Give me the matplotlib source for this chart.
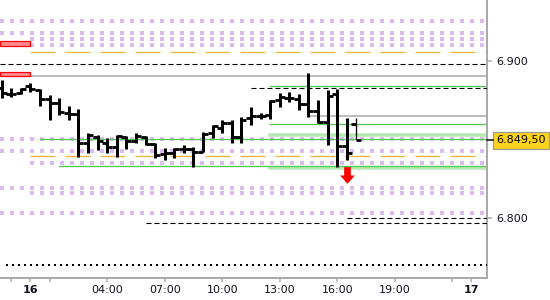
import numpy as np
import matplotlib
matplotlib.use("Agg")
import matplotlib.pyplot as plt
from matplotlib.path import Path
from matplotlib.markers import TICKLEFT, TICKRIGHT

plt.rcParams['font.family'] = ['DejaVu Sans']
plt.rcParams['lines.scale_dashes'] = False

# ---------------- data ----------------
# 30-minute bars, hours relative to 16th 00:00
bar_hours = np.arange(-1.5, 17.01, 0.5)
opens  = [6883, 6879, 6879.5, 6884, 6881.5, 6876, 6873.5, 6867, 6866, 6848,
          6851.5, 6848, 6845, 6851.5, 6849, 6851.5, 6847, 6841, 6841.5, 6844,
          6844, 6842, 6854, 6857.5, 6860.5, 6851.5, 6863.5, 6865, 6865.5, 6875,
          6876.5, 6876, 6872.5, 6868, 6861, 6879, 6846, 6860]
highs  = [6888, 6883, 6883, 6886, 6882, 6878.5, 6876.5, 6871.5, 6869.5, 6854,
          6853, 6851, 6853, 6852, 6854, 6852, 6848, 6844.5, 6844.5, 6846.5,
          6845, 6855, 6859, 6862.5, 6862.5, 6864.5, 6870.5, 6867, 6875, 6879.5,
          6880.5, 6879, 6892.5, 6875, 6881.5, 6882, 6863.5, 6863.5]
lows   = [6876.5, 6877, 6879, 6880.5, 6871.5, 6862.5, 6865.5, 6862.5, 6839, 6841.5,
          6843.5, 6841.5, 6839, 6844, 6848, 6846.5, 6838, 6837, 6838, 6841.5,
          6832.5, 6842, 6851, 6854, 6848, 6848, 6859, 6863, 6863, 6870.5,
          6874, 6869, 6864.5, 6860.5, 6846.5, 6832.5, 6837, 6849.5]
closes = [6879.5, 6879, 6882, 6882, 6876, 6873.5, 6867.5, 6866, 6848, 6853,
          6849, 6845, 6852, 6849, 6852, 6847, 6840, 6841.5, 6844, 6844,
          6842, 6853.5, 6858.5, 6860.5, 6851.5, 6862.5, 6865, 6865, 6874.5, 6877,
          6876.5, 6872.5, 6868, 6861, 6877.5, 6846, 6841.5, 6849.5]

# dotted lavender levels (None = from the left edge)
purple_levels = [6925.5, 6918, 6914, 6910, 6850.5, 6842.5, 6835, 6819, 6816, 6803]
purple_starts = [None, None, 0, 0, None, None, 0, None, 0, None]
orange_levels = [6905.5, 6839.5]
orange_starts = [0, 0]
black_dash_levels = [6898, 6883, 6797, 6800]
black_dash_starts = [None, 11.5, 6, 16.5]
dotted_level = 6770
dotted_start = -1.3
gray_levels = [6890.5, 6865]
gray_starts = [None, 14.5]
green_levels = [6884, 6860, 6850.5, 6833]
green_starts = [12.5, 12.5, 0.5, 1.5]
band_levels = [6852.7, 6831.8]
band_starts = [12.5, 12.5]
red_boxes = [(6909.7, 6912.7), (6890.4, 6893.2)]
red_box_end = 0
signal_hour = 16.5
signal_price = 6827.3

day_ticks = [-1, 0, 1, 4, 7, 10, 13, 16, 19, 22, 23]
day_labels = ['', '16', '', '04:00', '07:00', '10:00', '13:00', '16:00', '19:00', '', '17']
price_ticks = [6800, 6900]
price_labels = ['6.800', '6.900']
last_label = '6.849,50'

# ---------------- drawing ----------------
PX = 0.72
XMIN, XMAX = -1.59, 23.81
YMIN, YMAX = 6761.8, 6938.9

fig = plt.figure(figsize=(5.5, 3.0), dpi=100)
ax = fig.add_axes([0, 22 / 300, 487 / 550, 278 / 300])
ax.set_xlim(XMIN, XMAX)
ax.set_ylim(YMIN, YMAX)


def hline(level, start, **kw):
    s = XMIN if start is None else start
    ax.plot([s, XMAX], [level, level], **kw)


for lv, st in zip(purple_levels, purple_starts):
    hline(lv, st, color='#dcbcf0', lw=3.6 * PX, dashes=(3.6 * PX, 6.4 * PX),
          dash_capstyle='butt', antialiased=False, zorder=1)
for lv, st in zip(band_levels, band_starts):
    hline(lv, st, color='#b8e8b2', lw=3.5 * PX, zorder=2)
for lv, st in zip(orange_levels, orange_starts):
    hline(lv, st, color='#f5b53a', lw=1.3 * PX, dashes=(25 * PX, 10 * PX), zorder=2)
for lv, st in zip(gray_levels, gray_starts):
    hline(lv, st, color='#aaaaaa', lw=1.5 * PX, zorder=2)
for lv, st in zip(green_levels, green_starts):
    hline(lv, st, color='#4ccb4c', lw=1.3 * PX, zorder=2)
for lv, st in zip(black_dash_levels, black_dash_starts):
    hline(lv, st, color='#000000', lw=1.1 * PX, dashes=(5 * PX, 3 * PX), zorder=3)
hline(dotted_level, dotted_start, color='#000000', lw=2 * PX,
      dashes=(2 * PX, 4 * PX), zorder=3)

for lo, hi in red_boxes:
    ax.fill_between([XMIN, red_box_end], lo, hi, facecolor='#ff8c8c',
                    edgecolor='#ff0000', lw=1.2 * PX, zorder=4)

# OHLC bars
n = len(bar_hours)
lw_bar = [3 * PX] * (n - 1) + [1.3 * PX]
ax.vlines(bar_hours, lows, highs, colors='black', lw=lw_bar, zorder=5)
ax.plot(bar_hours, opens, ls='none', marker=TICKLEFT, ms=4.6 * PX,
        mew=2.8 * PX, color='black', zorder=5)
ax.plot(bar_hours, closes, ls='none', marker=TICKRIGHT, ms=4.6 * PX,
        mew=2.8 * PX, color='black', zorder=5)

# down arrow signal
arrow = Path([(-3.35, 8.35), (3.35, 8.35), (3.35, 0), (7.35, 0), (0, -8.35),
              (-7.35, 0), (-3.35, 0), (-3.35, 8.35)], closed=True)
ax.plot([signal_hour], [signal_price], ls='none', marker=arrow,
        ms=16.7 * PX, color='#ff0000', mec='#ff0000', mew=0, zorder=6)

# spines
for s in ['top', 'left']:
    ax.spines[s].set_visible(False)
for s in ['right', 'bottom']:
    ax.spines[s].set_color('#aaaaaa')
    ax.spines[s].set_linewidth(2 * PX)

ax.yaxis.tick_right()
ax.set_yticks(price_ticks)
ax.set_yticklabels(price_labels)
ax.tick_params(axis='y', length=5 * PX, width=1.5 * PX, color='#aaaaaa',
               pad=3, labelsize=8, labelcolor='#101020')
ax.set_xticks(day_ticks)
ax.set_xticklabels(day_labels)
ax.tick_params(axis='x', length=4 * PX, width=1.5 * PX, color='#aaaaaa',
               pad=2, labelsize=8, labelcolor='#101020')
for lab in ax.get_xticklabels():
    if lab.get_text() in ('16', '17'):
        lab.set_fontweight('bold')

# last price marker
ytr = ax.get_yaxis_transform()
ax.plot([1.0, 1.0 + 6 / 487], [closes[-1], closes[-1]], transform=ytr,
        color='black', lw=1.5 * PX, clip_on=False, zorder=7)
ax.annotate(last_label, xy=(1.0, closes[-1]), xycoords=ytr,
            xytext=(9 * PX, 0), textcoords='offset points', ha='left',
            va='center', fontsize=8, color='black', annotation_clip=False,
            bbox=dict(boxstyle='square,pad=0.3', fc='#ffd21c', ec='#9a9a9a',
                      lw=1.2 * PX))

fig.savefig('out.png', dpi=100)
